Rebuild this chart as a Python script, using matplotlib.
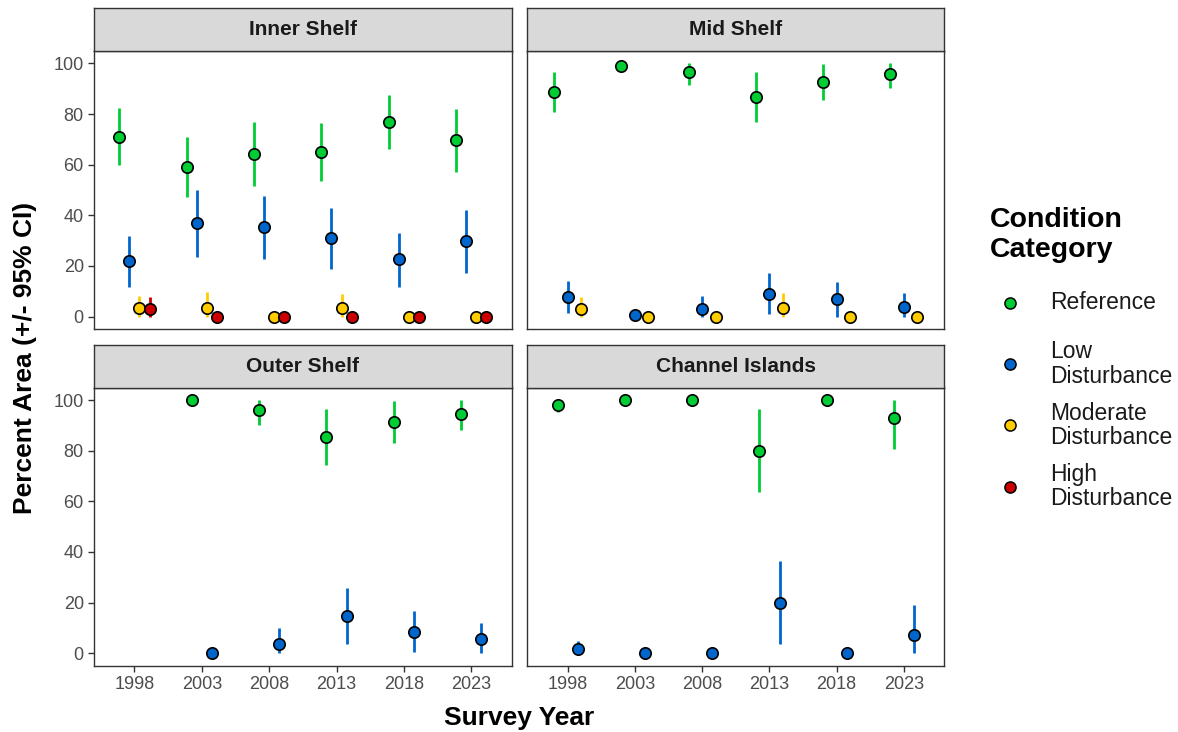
import matplotlib

matplotlib.use("Agg")
import matplotlib.pyplot as plt
import numpy as np
from matplotlib.lines import Line2D

plt.rcParams["font.family"] = ["Liberation Sans", "DejaVu Sans"]

years = [1998, 2003, 2008, 2013, 2018, 2023]
categories = ["Reference", "Low\nDisturbance", "Moderate\nDisturbance", "High\nDisturbance"]
cat_colors = ["#00CC33", "#0066CC", "#FFCC00", "#CC0000"]
nan = np.nan

# Inner Shelf
inner_ref = [71.1, 59.0, 64.2, 65.1, 77.0, 69.7]
inner_ref_lo = [59.9, 47.2, 51.5, 53.6, 66.3, 57.3]
inner_ref_hi = [82.3, 70.8, 76.8, 76.4, 87.7, 81.9]
inner_low = [22.0, 37.0, 35.3, 31.1, 22.6, 29.9]
inner_low_lo = [11.8, 23.6, 22.6, 19.0, 11.8, 17.3]
inner_low_hi = [32.0, 50.1, 47.8, 43.0, 33.2, 42.1]
inner_mod = [3.3, 3.5, 0, 3.3, 0, 0]
inner_mod_lo = [0, 0, 0, 0, 0, 0]
inner_mod_hi = [8.1, 9.6, 0, 8.9, 0, 0]
inner_high = [3.0, 0, 0, 0, 0, 0]
inner_high_lo = [0, 0, 0, 0, 0, 0]
inner_high_hi = [7.7, 0, 0, 0, 0, 0]

# Mid Shelf
mid_ref = [88.7, 98.9, 96.6, 86.9, 92.8, 95.9]
mid_ref_lo = [80.9, 98.9, 91.3, 77.0, 85.6, 90.2]
mid_ref_hi = [96.5, 98.9, 100, 96.7, 99.7, 100]
mid_low = [7.9, 0.7, 2.9, 9.0, 6.8, 3.7]
mid_low_lo = [1.3, 0.7, 0, 0.9, 0, 0]
mid_low_hi = [14.0, 0.7, 8.1, 17.1, 13.8, 9.3]
mid_mod = [2.9, 0, 0, 3.5, 0, 0]
mid_mod_lo = [0, 0, 0, 0, 0, 0]
mid_mod_hi = [7.6, 0, 0, 9.2, 0, 0]

# Outer Shelf
outer_ref = [nan, 100, 96.3, 85.4, 91.6, 94.7]
outer_ref_lo = [nan, 100, 90.1, 74.4, 83.3, 88.2]
outer_ref_hi = [nan, 100, 100, 96.7, 99.6, 100]
outer_low = [nan, 0, 3.7, 14.6, 8.5, 5.4]
outer_low_lo = [nan, 0, 0, 3.4, 0.3, 0]
outer_low_hi = [nan, 0, 10.0, 25.7, 16.6, 11.9]

# Channel Islands
chan_ref = [98.1, 100, 100, 80.0, 100, 92.9]
chan_ref_lo = [95.3, 100, 100, 63.6, 100, 80.7]
chan_ref_hi = [100, 100, 100, 96.4, 100, 100]
chan_low = [1.8, 0, 0, 20.0, 0, 7.2]
chan_low_lo = [0, 0, 0, 3.5, 0, 0]
chan_low_hi = [4.6, 0, 0, 36.4, 0, 19.2]

panels = [
    ("Inner Shelf", [(inner_ref, inner_ref_lo, inner_ref_hi),
                     (inner_low, inner_low_lo, inner_low_hi),
                     (inner_mod, inner_mod_lo, inner_mod_hi),
                     (inner_high, inner_high_lo, inner_high_hi)]),
    ("Mid Shelf", [(mid_ref, mid_ref_lo, mid_ref_hi),
                   (mid_low, mid_low_lo, mid_low_hi),
                   (mid_mod, mid_mod_lo, mid_mod_hi)]),
    ("Outer Shelf", [(outer_ref, outer_ref_lo, outer_ref_hi),
                     (outer_low, outer_low_lo, outer_low_hi)]),
    ("Channel Islands", [(chan_ref, chan_ref_lo, chan_ref_hi),
                         (chan_low, chan_low_lo, chan_low_hi)]),
]

W, H = 1178, 732
fig = plt.figure(figsize=(W / 100, H / 100), dpi=100)


def box(x0, y0, x1, y1):
    # pixel box (top-left origin) -> figure fraction rect
    return [x0 / W, 1 - y1 / H, (x1 - x0) / W, (y1 - y0) / H]


cols = [(94, 511.7), (527.3, 944.3)]
rows = [(8.3, 50.7, 329.3), (345.0, 387.7, 665.7)]
edge = "#333333"
x = np.arange(1, len(years) + 1)

for i, (name, series) in enumerate(panels):
    r, c = divmod(i, 2)
    (x0, x1), (s0, p0, p1) = cols[c], rows[r]
    ax = fig.add_axes(box(x0, p0, x1, p1))
    sax = fig.add_axes(box(x0, s0, x1, p0))
    sax.set_facecolor("#D9D9D9")
    sax.set_xticks([])
    sax.set_yticks([])
    for sp in sax.spines.values():
        sp.set_color(edge)
        sp.set_linewidth(1.0)
    sax.text(0.5, 0.5, name, ha="center", va="center", fontsize=15,
             fontweight="bold", color="#1A1A1A", transform=sax.transAxes)

    # dodge the categories around each survey year
    n = len(series)
    for k, (est, lo, hi) in enumerate(series):
        xs = x + (k - (n - 1) / 2) * 0.6 / n
        ax.vlines(xs, lo, hi, color=cat_colors[k], linewidth=2.0,
                  capstyle="butt", zorder=2)
        ax.plot(xs, est, "o", color=cat_colors[k], markersize=8.2,
                markeredgecolor="black", markeredgewidth=1.2, zorder=3,
                linestyle="none")

    ax.set_xlim(0.4, 6.6)
    ax.set_ylim(-5, 105)
    ax.set_yticks(range(0, 101, 20))
    ax.set_xticks(x)
    ax.set_xticklabels(years)
    for sp in ax.spines.values():
        sp.set_color(edge)
        sp.set_linewidth(1.0)
    ax.tick_params(length=4.3, width=1.0, color=edge, labelsize=13,
                   labelcolor="#4D4D4D", pad=3)
    if c == 1:
        ax.tick_params(axis="y", left=False, labelleft=False)
    if r == 0:
        ax.tick_params(axis="x", bottom=False, labelbottom=False)

fig.text(519 / W, 1 - 718 / H, "Survey Year", ha="center", va="center",
         fontsize=19, fontweight="bold")
fig.text(25 / W, 1 - 358 / H, "Percent Area (+/- 95% CI)", ha="center",
         va="center", rotation=90, fontsize=19, fontweight="bold")

# legend
fig.text(990 / W, 1 - 207 / H, "Condition\nCategory", ha="left", va="top",
         fontsize=20.5, fontweight="bold", linespacing=1.2)
key_y = [303, 364, 425.5, 486.5]
for lab, col, yk in zip(categories, cat_colors, key_y):
    fig.add_artist(Line2D([1010 / W], [1 - yk / H], transform=fig.transFigure,
                          marker="o", markersize=8, color=col,
                          markeredgecolor="black", markeredgewidth=1.1,
                          linestyle="none"))
    fig.text(1050 / W, 1 - yk / H, lab, ha="left", va="center",
             fontsize=16.5, color="#1A1A1A", linespacing=1.1)

fig.savefig("out.png", dpi=100)
